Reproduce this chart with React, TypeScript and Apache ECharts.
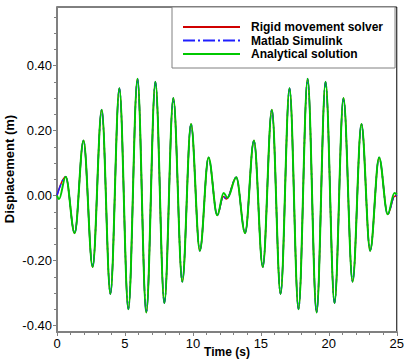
import React, { useEffect, useRef } from "react";
import * as echarts from "echarts";

// ---- data (extrema of the displacement signal) ----
const seriesNames = ["Rigid movement solver", "Matlab Simulink", "Analytical solution"];
const seriesColors = ["#d00000", "#1f1fff", "#00c800"];

const beatOneTime = [0.64, 1.30, 1.95, 2.62, 3.29, 3.93, 4.59, 5.25, 5.92, 6.57, 7.24, 7.90, 8.56, 9.22, 9.86, 10.51, 11.15, 11.79];
const beatOneDisp = [0.058, -0.116, 0.169, -0.220, 0.264, -0.303, 0.330, -0.350, 0.359, -0.360, 0.350, -0.331, 0.300, -0.265, 0.220, -0.170, 0.117, -0.061];
const beatTwoTime = [13.19, 13.84, 14.49, 15.14, 15.81, 16.45, 17.11, 17.77, 18.44, 19.10, 19.76, 20.42, 21.08, 21.75, 22.40, 23.04, 23.70, 24.33];
const beatTwoDisp = [0.056, -0.116, 0.169, -0.220, 0.264, -0.303, 0.330, -0.350, 0.359, -0.360, 0.350, -0.331, 0.300, -0.265, 0.220, -0.170, 0.117, -0.058];

const solverStartTime = [0];
const solverStartDisp = [0];
const solverMidTime = [12.24, 12.47];
const solverMidDisp = [-0.003, -0.011];
const solverEndTime = [24.85, 25];
const solverEndDisp = [-0.002, 0.002];

const simulinkStartTime = [0];
const simulinkStartDisp = [0];
const simulinkMidTime = [12.24, 12.47];
const simulinkMidDisp = [-0.003, -0.011];
const simulinkEndTime = [24.85, 25];
const simulinkEndDisp = [-0.002, 0.002];

const analyticalStartTime = [0, 0.15];
const analyticalStartDisp = [0, -0.011];
const analyticalMidTime = [12.26, 12.55];
const analyticalMidDisp = [0.008, -0.007];
const analyticalEndTime = [24.83, 25];
const analyticalEndDisp = [0.008, 0.003];

const yMajorTicks = [-0.4, -0.2, 0, 0.2, 0.4];
const yMinorTicks = [-0.4, -0.35, -0.3, -0.25, -0.2, -0.15, -0.1, -0.05, 0, 0.05, 0.1, 0.15, 0.2, 0.25, 0.3, 0.35, 0.4, 0.45, 0.5, 0.55];

const pairs = (t: number[], v: number[]) => t.map((x, i) => [x, v[i]]);
const buildCurve = (st: number[], sv: number[], mt: number[], mv: number[], et: number[], ev: number[]) => [
  ...pairs(st, sv),
  ...pairs(beatOneTime, beatOneDisp),
  ...pairs(mt, mv),
  ...pairs(beatTwoTime, beatTwoDisp),
  ...pairs(et, ev),
];

const curves = [
  buildCurve(solverStartTime, solverStartDisp, solverMidTime, solverMidDisp, solverEndTime, solverEndDisp),
  buildCurve(simulinkStartTime, simulinkStartDisp, simulinkMidTime, simulinkMidDisp, simulinkEndTime, simulinkEndDisp),
  buildCurve(analyticalStartTime, analyticalStartDisp, analyticalMidTime, analyticalMidDisp, analyticalEndTime, analyticalEndDisp),
];

const FONT = "'Liberation Sans', Arial, Helvetica, sans-serif";

export default function App() {
  const ref = useRef<HTMLDivElement>(null);
  useEffect(() => {
    if (!ref.current) return;
    const chart = echarts.init(ref.current, null, { renderer: "svg" });
    const lineTypes: any[] = ["solid", [12, 3, 2, 3], "solid"];
    const widths = [1.5, 1.5, 2];
    chart.setOption({
      animation: false,
      backgroundColor: "#ffffff",
      grid: {
        left: 57,
        top: 7,
        width: 340,
        height: 325,
        show: true,
        borderColor: "#000000",
        borderWidth: 1,
        backgroundColor: "#ffffff",
      },
      legend: {
        orient: "vertical",
        left: 172,
        top: 7,
        itemWidth: 57,
        itemHeight: 14,
        itemGap: 1.5,
        padding: [14, 12, 8, 10],
        borderColor: "#808080",
        borderWidth: 1,
        backgroundColor: "#ffffff",
        itemStyle: { opacity: 0, color: "transparent", borderWidth: 0 },
        textStyle: { fontFamily: FONT, fontWeight: "bold", fontSize: 12, color: "#000", padding: [0, 0, 0, 6] },
        data: seriesNames,
      },
      xAxis: {
        type: "value",
        min: 0,
        max: 25,
        interval: 5,
        axisLine: { show: true, onZero: false, lineStyle: { color: "#808080", width: 2 } },
        axisTick: { show: true, inside: false, length: 4, lineStyle: { color: "#808080", width: 1 } },
        minorTick: { show: true, splitNumber: 5, length: 3, lineStyle: { color: "#808080", width: 1 } },
        axisLabel: { fontFamily: FONT, fontSize: 13, color: "#000", margin: 5 },
        splitLine: { show: false },
      },
      yAxis: [
        {
          type: "value",
          position: "left",
          min: -0.42,
          max: 0.58,
          axisLine: { show: true, onZero: false, lineStyle: { color: "#808080", width: 2 } },
          axisTick: { show: true, length: 4, customValues: yMajorTicks, lineStyle: { color: "#808080", width: 1 } },
          axisLabel: {
            fontFamily: FONT,
            fontSize: 13,
            color: "#000",
            margin: 5,
            customValues: yMajorTicks,
            formatter: (v: number) => v.toFixed(2),
          },
          splitLine: { show: false },
        },
        {
          type: "value",
          position: "left",
          offset: 0,
          min: -0.42,
          max: 0.58,
          axisLine: { show: false },
          axisTick: { show: true, length: 3, customValues: yMinorTicks, lineStyle: { color: "#808080", width: 1 } },
          axisLabel: { show: false },
          splitLine: { show: false },
        },
      ],
      graphic: [
        {
          type: "text",
          x: 227,
          y: 351.5,
          style: { text: "Time (s)", font: `bold 12px ${FONT}`, fill: "#000", align: "center", verticalAlign: "middle" },
        },
        {
          type: "text",
          x: 9,
          y: 169,
          rotation: Math.PI / 2,
          style: { text: "Displacement (m)", font: `bold 13px ${FONT}`, fill: "#000", align: "center", verticalAlign: "middle" },
        },
      ],
      series: seriesNames.map((name, i) => ({
        name,
        type: "line",
        xAxisIndex: 0,
        yAxisIndex: 0,
        data: curves[i],
        symbol: "none",
        smooth: 0.36,
        smoothMonotone: "x",
        z: 2 + i,
        lineStyle: { color: seriesColors[i], width: widths[i], type: lineTypes[i] },
        itemStyle: { color: seriesColors[i] },
      })),
    });
    return () => chart.dispose();
  }, []);
  return <div ref={ref} style={{ position: "fixed", left: 0, top: 0, width: 407, height: 362 }} />;
}
